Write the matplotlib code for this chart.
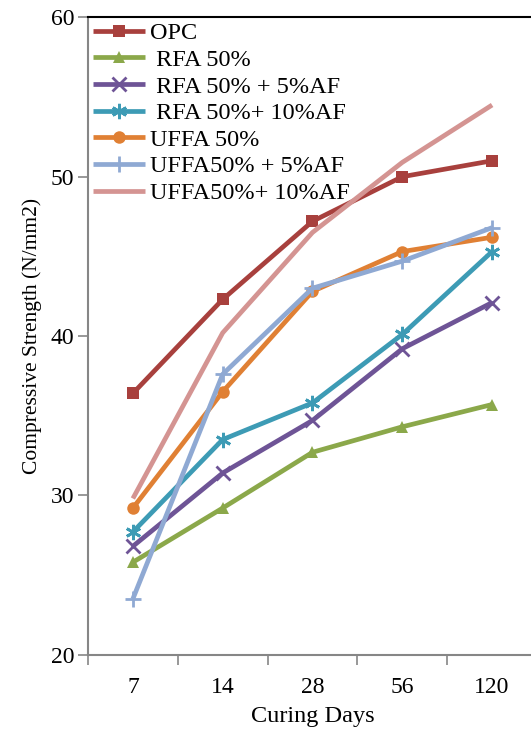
import numpy as np
import matplotlib.pyplot as plt

# curing ages and compressive strength (N/mm2) for each mix
days = ['7', '14', '28', '56', '120']
opc = [36.4, 42.3, 47.2, 50.0, 51.0]
rfa50 = [25.8, 29.2, 32.7, 34.3, 35.7]
rfa50_af5 = [26.8, 31.4, 34.7, 39.2, 42.1]
rfa50_af10 = [27.7, 33.5, 35.8, 40.1, 45.3]
uffa50 = [29.2, 36.5, 42.8, 45.3, 46.2]
uffa50_af5 = [23.5, 37.6, 43.0, 44.7, 46.8]
uffa50_af10 = [29.8, 40.2, 46.5, 50.9, 54.5]

plt.rcParams['font.family'] = ['Liberation Serif', 'DejaVu Serif']

fig = plt.figure(figsize=(5.31, 7.31), dpi=100)
ax = fig.add_axes([0.1657, 0.1045, 0.8456, 0.8717])

x = np.arange(len(days))
series = [
    (opc, 'OPC', '#A8403D', 's', 8, 0),
    (rfa50, ' RFA 50%', '#8BA84A', '^', 9, 0),
    (rfa50_af5, ' RFA 50% + 5%AF', '#6E5496', 'x', 10, 2),
    (rfa50_af10, ' RFA 50%+ 10%AF', '#3D9BB5', (6, 2, 0), 11, 2),
    (uffa50, 'UFFA 50%', '#E08034', 'o', 9, 0),
    (uffa50_af5, 'UFFA50% + 5%AF', '#8FA9D3', '+', 11, 2),
    (uffa50_af10, 'UFFA50%+ 10%AF', '#D49492', None, 0, 0),
]
for vals, label, color, marker, ms, mew in series:
    ax.plot(x, vals, color=color, lw=3.4, marker=marker, markersize=ms,
            markeredgewidth=mew, markeredgecolor=color, label=label,
            solid_capstyle='butt', clip_on=False)

ax.set_xlim(-0.5, len(days) - 0.5)
ax.set_ylim(20, 60)
ax.set_yticks([20, 30, 40, 50, 60])

# category boundaries carry the tick marks, centres carry the labels
ax.set_xticks(np.arange(len(days) + 1) - 0.5)
ax.set_xticklabels([])
ax.set_xticks(x, minor=True)
ax.set_xticklabels(days, minor=True)
ax.tick_params(axis='x', which='minor', length=0, pad=16, labelsize=17)
ax.tick_params(axis='x', which='major', direction='out', length=7,
               width=1.2, color='#868686')
ax.tick_params(axis='y', direction='out', length=7, width=1.2,
               color='#868686', labelsize=17, pad=3)

for side in ['left', 'bottom']:
    ax.spines[side].set_color('#868686')
    ax.spines[side].set_linewidth(1.5)
ax.spines['right'].set_visible(False)
ax.spines['top'].set_color('black')
ax.spines['top'].set_linewidth(1.5)

ax.set_xlabel('Curing Days', fontsize=17.5, labelpad=6)
ax.set_ylabel('Compressive Strength (N/mm2)', fontsize=15.5, labelpad=6)

ax.legend(loc='upper left', bbox_to_anchor=(0.0, 1.0), frameon=False,
          fontsize=17.5, handlelength=2.15, handletextpad=0.2,
          labelspacing=0.19, borderaxespad=0.0, borderpad=0.2)

fig.savefig('out.png', dpi=100)
